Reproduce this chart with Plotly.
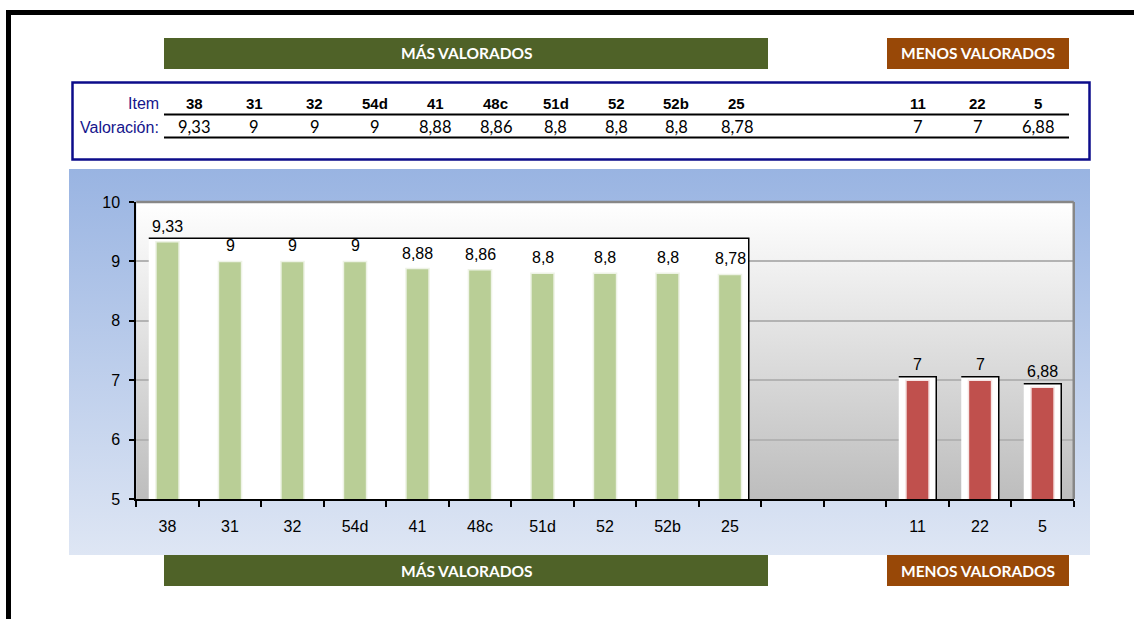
import plotly.graph_objects as go

# ---------------- data ----------------
top_items = ["38", "31", "32", "54d", "41", "48c", "51d", "52", "52b", "25"]
top_values = [9.33, 9, 9, 9, 8.88, 8.86, 8.8, 8.8, 8.8, 8.78]
low_items = ["11", "22", "5"]
low_values = [7, 7, 6.88]
y_ticks = [5, 6, 7, 8, 9, 10]
banner_top = "MÁS VALORADOS"
banner_low = "MENOS VALORADOS"
row_labels = ["Item", "Valoración:"]

# ---------------- layout constants ----------------
W, H = 1134, 619
GAP = 2                      # empty category slots between the two groups
top_pos = list(range(len(top_items)))
low_pos = [len(top_items) + GAP + i for i in range(len(low_items))]
n_slots = low_pos[-1] + 1
BOX_PAD = 0.06               # white box above bars
BOX_HALF = 0.3

PL, PR, PT, PB = 136.25, 1073.75, 202, 499     # plot area (px)
CL, CR, CT, CB = 69, 1090, 169, 555            # chart area (px)

ARIAL = "Liberation Sans, Arial, sans-serif"
CALIBRI = "Lato, Carlito, Calibri, sans-serif"


def fmt(v):
    return f"{v:g}".replace(".", ",")


def fx(x):
    return x / W


def fy(y):
    return 1 - y / H


fig = go.Figure()


# ---------------- gradient backgrounds (full-paper helper axes) ----------------
def grad_rect(x0, x1, y0, y1, c_top, c_bot):
    return go.Scatter(
        x=[x0, x1, x1, x0, x0],
        y=[H - y0, H - y0, H - y1, H - y1, H - y0],
        fill="toself", mode="lines", line=dict(width=0, color="rgba(0,0,0,0)"),
        fillcolor=c_bot,
        fillgradient=dict(type="vertical", colorscale=[[0, c_bot], [1, c_top]]),
        xaxis="x", yaxis="y", hoverinfo="skip", showlegend=False,
    )


fig.add_trace(grad_rect(CL, CR, CT, CB, "#99B4E2", "#DEE6F4"))
fig.add_trace(grad_rect(PL, PR, PT, PB, "#FFFFFF", "#BDBDBD"))

# ---------------- bars ----------------
fig.add_trace(go.Bar(
    x=top_pos, y=top_values, width=0.37,
    marker=dict(color="#B9CE96", line=dict(color="#EEF3E6", width=1.5)),
    xaxis="x2", yaxis="y2", hoverinfo="skip", showlegend=False,
))
fig.add_trace(go.Bar(
    x=low_pos, y=low_values, width=0.37,
    marker=dict(color="#C0504D", line=dict(color="#F6E4E3", width=1.5)),
    xaxis="x2", yaxis="y2", hoverinfo="skip", showlegend=False,
))

shapes = []
annotations = []

# white boxes behind the bars (top + right black edge)
def white_box(x0, x1, ytop):
    shapes.append(dict(type="rect", xref="x2", yref="y2", x0=x0, x1=x1, y0=y_ticks[0], y1=ytop,
                       fillcolor="white", line=dict(width=0), layer="between"))
    shapes.append(dict(type="path", xref="x2", yref="y2",
                       path=f"M {x0},{ytop} L {x1},{ytop} L {x1},{y_ticks[0]}",
                       line=dict(color="black", width=1.5), layer="between"))


white_box(top_pos[0] - BOX_HALF, top_pos[-1] + BOX_HALF, max(top_values) + BOX_PAD)
for p, v in zip(low_pos, low_values):
    white_box(p - BOX_HALF, p + BOX_HALF, v + BOX_PAD)

# data labels
for p, v in list(zip(top_pos, top_values)) + list(zip(low_pos, low_values)):
    annotations.append(dict(x=p, y=v, xref="x2", yref="y2", text=fmt(v), showarrow=False,
                            yanchor="bottom", yshift=5,
                            font=dict(family=ARIAL, size=16, color="black")))

# plot-area top/right grey border
shapes.append(dict(type="line", xref="paper", yref="paper", x0=fx(PL), x1=fx(PR), y0=fy(PT), y1=fy(PT),
                   line=dict(color="#878787", width=2.5), layer="above"))
shapes.append(dict(type="line", xref="paper", yref="paper", x0=fx(PR), x1=fx(PR), y0=fy(PT), y1=fy(PB),
                   line=dict(color="#878787", width=2.5), layer="above"))

# ---------------- outer frame ----------------
shapes.append(dict(type="rect", xref="paper", yref="paper", x0=fx(6), x1=1, y0=fy(15), y1=fy(10),
                   fillcolor="black", line=dict(width=0), layer="above"))
shapes.append(dict(type="rect", xref="paper", yref="paper", x0=fx(6), x1=fx(11), y0=0, y1=fy(10),
                   fillcolor="black", line=dict(width=0), layer="above"))

# ---------------- banners ----------------
def banner(x0, x1, y0, y1, color, text):
    shapes.append(dict(type="rect", xref="paper", yref="paper", x0=fx(x0), x1=fx(x1), y0=fy(y1), y1=fy(y0),
                       fillcolor=color, line=dict(width=0), layer="above"))
    annotations.append(dict(x=fx((x0 + x1) / 2), y=fy((y0 + y1) / 2), xref="paper", yref="paper",
                            text=f"<b>{text}</b>", showarrow=False, xanchor="center", yanchor="middle",
                            font=dict(family=CALIBRI, size=15.5, color="white")))


for (y0, y1) in [(38, 69), (555, 586)]:
    banner(164, 768, y0, y1, "#4F6228", banner_top)
    banner(887, 1069, y0, y1, "#984807", banner_low)

# ---------------- table ----------------
shapes.append(dict(type="rect", xref="paper", yref="paper", x0=fx(72.5), x1=fx(1089.5), y0=fy(159.5), y1=fy(82.5),
                   line=dict(color="#0C0C8A", width=2.5), fillcolor="rgba(0,0,0,0)", layer="above"))
for yl in (114.5, 137.5):
    shapes.append(dict(type="line", xref="paper", yref="paper", x0=fx(164), x1=fx(1069), y0=fy(yl), y1=fy(yl),
                       line=dict(color="black", width=2), layer="above"))

col0, col_w = 194, 60.3
annotations.append(dict(x=fx(161), y=fy(104), xref="paper", yref="paper", text=row_labels[0], showarrow=False,
                        xanchor="right", yanchor="middle", font=dict(family=ARIAL, size=16, color="#15158C")))
annotations.append(dict(x=fx(161), y=fy(127), xref="paper", yref="paper", text=row_labels[1], showarrow=False,
                        xanchor="right", yanchor="middle", font=dict(family=ARIAL, size=16, color="#15158C")))
for p, it, v in list(zip(top_pos, top_items, top_values)) + list(zip(low_pos, low_items, low_values)):
    cx = col0 + p * col_w
    annotations.append(dict(x=fx(cx), y=fy(104), xref="paper", yref="paper", text=f"<b>{it}</b>",
                            showarrow=False, xanchor="center", yanchor="middle",
                            font=dict(family=ARIAL, size=15, color="black")))
    annotations.append(dict(x=fx(cx), y=fy(127), xref="paper", yref="paper", text=fmt(v),
                            showarrow=False, xanchor="center", yanchor="middle",
                            font=dict(family=CALIBRI, size=16.5, color="black")))

# ---------------- layout ----------------
fig.update_layout(
    width=W, height=H, margin=dict(l=0, r=0, t=0, b=0, autoexpand=False),
    paper_bgcolor="white", plot_bgcolor="rgba(0,0,0,0)",
    barmode="overlay", showlegend=False,
    xaxis=dict(domain=[0, 1], range=[0, W], visible=False, fixedrange=True, automargin=False),
    yaxis=dict(domain=[0, 1], range=[0, H], visible=False, fixedrange=True, automargin=False),
    xaxis2=dict(
        domain=[fx(PL), fx(PR)], anchor="y2", range=[-0.5, n_slots - 0.5],
        tickmode="array", tickvals=top_pos + low_pos, ticktext=top_items + low_items,
        ticks="outside", ticklen=12, tickcolor="rgba(0,0,0,0)",
        minor=dict(tickmode="array", tickvals=[i - 0.5 for i in range(n_slots + 1)],
                   ticks="outside", ticklen=6, tickwidth=1.5, tickcolor="black"),
        showline=True, linecolor="black", linewidth=2, showgrid=False, zeroline=False,
        tickfont=dict(family=ARIAL, size=16, color="black"), fixedrange=True, automargin=False,
    ),
    yaxis2=dict(
        domain=[fy(PB), fy(PT)], anchor="x2", range=[y_ticks[0], y_ticks[-1]],
        tickmode="array", tickvals=y_ticks, ticks="outside", ticklen=5, tickwidth=1.5, tickcolor="black",
        showline=True, linecolor="black", linewidth=2,
        showgrid=True, gridcolor="#B3B3B3", gridwidth=2, zeroline=False,
        tickfont=dict(family=ARIAL, size=16, color="black"), ticklabelstandoff=6, fixedrange=True,
        automargin=False,
    ),
    shapes=shapes, annotations=annotations,
)

fig.write_html("out.html", config={"displayModeBar": False},
               post_script="document.body.style.margin='0';document.body.style.overflow='hidden';")
